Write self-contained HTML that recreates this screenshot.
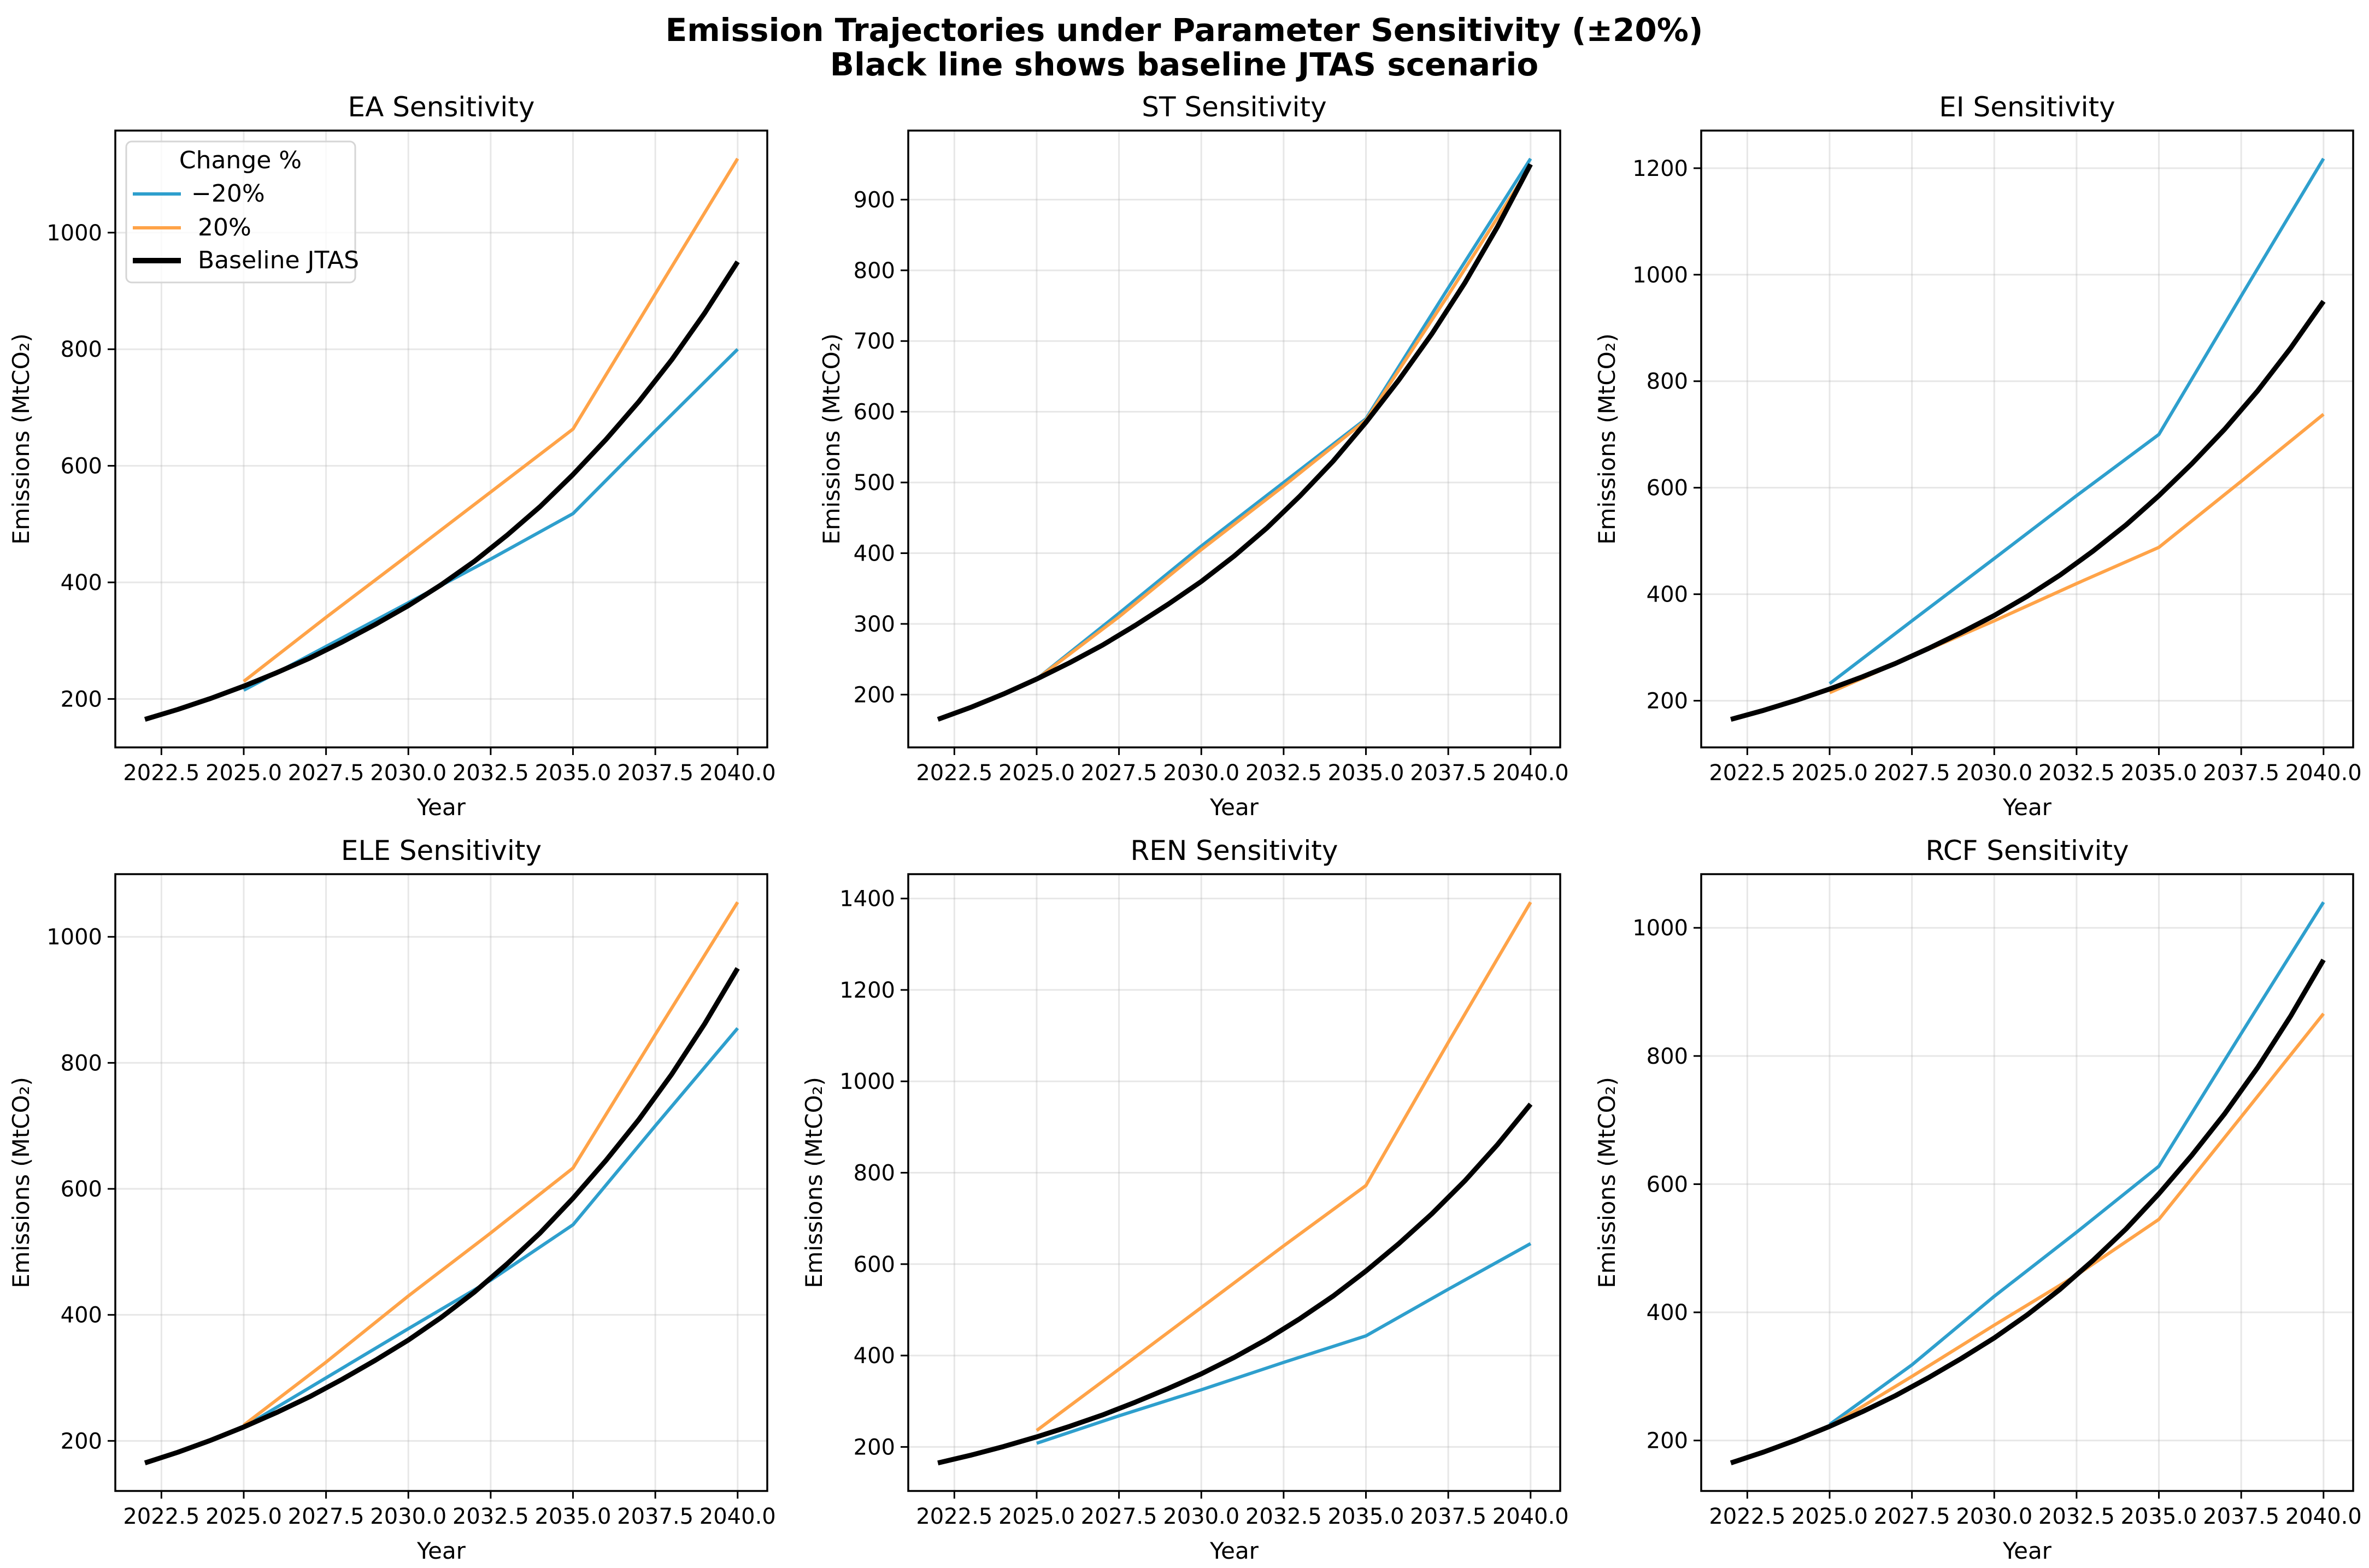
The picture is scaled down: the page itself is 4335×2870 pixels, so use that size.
<!DOCTYPE html>
<html><head><meta charset="utf-8"><style>
html,body{margin:0;padding:0;background:#fff}
svg{display:block;font-family:"DejaVu Sans","Liberation Sans",sans-serif}
</style></head><body>
<svg id="fig" width="4335" height="2870" viewBox="0 0 4335 2870" xmlns="http://www.w3.org/2000/svg">
<rect width="4335" height="2870" fill="#fff"/>
<text x="2167" y="75" text-anchor="middle" font-size="58" font-weight="bold">Emission Trajectories under Parameter Sensitivity (±20%)</text>
<text x="2167" y="138" text-anchor="middle" font-size="58" font-weight="bold">Black line shows baseline JTAS scenario</text>
</svg>
<script>
const baseYears = [2022,2023,2024,2025,2026,2027,2028,2029,2030,2031,2032,2033,2034,2035,2036,2037,2038,2039,2040];
const baseline = [165,182,201,222,245,270,298,328,360,396,436,481,530,585,645,710,782,862,950];
const sensYears = [2025,2027.5,2030,2032.5,2035,2037.5,2040];
const panelNames = ["EA","ST","EI","ELE","REN","RCF"];
const minus20 = [
  [215,290,365,440,518,660,800],
  [222,315,410,500,590,775,958],
  [232,350,467,585,700,960,1218],
  [222,300,378,455,543,700,855],
  [208,268,325,385,443,545,645],
  [225,318,425,525,628,835,1040]
];
const plus20 = [
  [230,340,447,555,663,895,1127],
  [222,310,405,495,588,765,948],
  [215,283,350,420,488,612,738],
  [225,325,430,530,633,845,1055],
  [236,370,505,640,772,1085,1392],
  [222,300,380,458,545,705,866]
];
const xTicks = [2022.5,2025,2027.5,2030,2032.5,2035,2037.5,2040];
const xTickLabels = ["2022.5","2025.0","2027.5","2030.0","2032.5","2035.0","2037.5","2040.0"];
const yTickSets = [
  [200,400,600,800,1000],
  [200,300,400,500,600,700,800,900],
  [200,400,600,800,1000,1200],
  [200,400,600,800,1000],
  [200,400,600,800,1000,1200,1400],
  [200,400,600,800,1000]
];

const NS="http://www.w3.org/2000/svg";
const svg=document.getElementById('fig');
function mk(tag,attrs,parent){const e=document.createElementNS(NS,tag);for(const k in attrs)e.setAttribute(k,attrs[k]);(parent||svg).appendChild(e);return e;}
const colsL=[211,1662,3113], W=1193, rowsT=[239,1600], H=1129;
const BLUE="#2e9fcd", ORANGE="#ffa348";

panelNames.forEach((name,i)=>{
  const L=colsL[i%3], T=rowsT[Math.floor(i/3)];
  const g=mk('g',{});
  
  
  const xmin=2021.1,xmax=2040.9;
  const all=baseline.concat(minus20[i],plus20[i]);
  const dmin=Math.min(...all), dmax=Math.max(...all), pad=(dmax-dmin)*0.05;
  const ymin=dmin-pad, ymax=dmax+pad;
  const sx=v=>L+(v-xmin)/(xmax-xmin)*W;
  const sy=v=>T+H-(v-ymin)/(ymax-ymin)*H;
  xTicks.forEach((t,k)=>{
    const gl=mk('line',{x1:sx(t),x2:sx(t),y1:T,y2:T+H,stroke:'#b0b0b0','stroke-opacity':0.3,'stroke-width':3},g);
    
    
    const tk=mk('line',{x1:sx(t),x2:sx(t),y1:T+H,y2:T+H+14,stroke:'#000','stroke-width':3},g);
    
    
    const tl=mk('text',{x:sx(t),y:T+H+60,'text-anchor':'middle','font-size':40},g);
    
    
    tl.textContent=xTickLabels[k];
  });
  yTickSets[i].forEach(t=>{
    const gl=mk('line',{x1:L,x2:L+W,y1:sy(t),y2:sy(t),stroke:'#b0b0b0','stroke-opacity':0.3,'stroke-width':3},g);
    
    
    const tk=mk('line',{x1:L-14,x2:L,y1:sy(t),y2:sy(t),stroke:'#000','stroke-width':3},g);
    
    
    const tl=mk('text',{x:L-24,y:sy(t)+14,'text-anchor':'end','font-size':40},g);
    
    
    tl.textContent=String(t);
  });
  const path=(xs,ys)=>xs.map((x,k)=>(k?'L':'M')+sx(x).toFixed(1)+','+sy(ys[k]).toFixed(1)).join(' ');
  const lm=mk('path',{d:path(sensYears,minus20[i]),fill:'none',stroke:BLUE,'stroke-width':6,'stroke-linejoin':'round'},g);
  
  
  const lp=mk('path',{d:path(sensYears,plus20[i]),fill:'none',stroke:ORANGE,'stroke-width':6,'stroke-linejoin':'round'},g);
  
  
  const lb=mk('path',{d:path(baseYears,baseline),fill:'none',stroke:'#000','stroke-width':9,'stroke-linejoin':'round'},g);
  
  
  const fr=mk('rect',{x:L,y:T,width:W,height:H,fill:'none',stroke:'#000','stroke-width':3.5},g);
  
  
  const ti=mk('text',{x:L+W/2,y:T-26,'text-anchor':'middle','font-size':50},g);
  
  
  ti.textContent=name+' Sensitivity';
  const xl=mk('text',{x:L+W/2,y:T+H+124,'text-anchor':'middle','font-size':42},g);
  
  
  xl.textContent='Year';
  const maxLab=Math.max(...yTickSets[i]);
  const off=maxLab>=1000?172:140;
  const yl=mk('text',{x:0,y:0,'text-anchor':'middle','font-size':42,transform:'translate('+(L-off+14)+','+(T+H/2)+') rotate(-90)'},g);
  
  
  yl.textContent='Emissions (MtCO₂)';
  if(i===0){
    const lg=mk('g',{},g);
    
    
    mk('rect',{x:231,y:259,width:419,height:258,rx:10,fill:'#fff','fill-opacity':0.8,stroke:'#d5d5d5','stroke-width':3},lg);
    const lt=mk('text',{x:440,y:308,'text-anchor':'middle','font-size':44},lg);
    
    
    lt.textContent='Change %';
    const ents=[[BLUE,6,'−20%',350,355],[ORANGE,6,' 20%',362,417],['#000',10,'Baseline JTAS',362,477]];
    ents.forEach(e=>{
      const eg=mk('g',{},lg);
      
      
      mk('line',{x1:243,x2:331,y1:e[4],y2:e[4],stroke:e[0],'stroke-width':e[1]},eg);
      const tx=mk('text',{x:e[3],y:e[4]+14,'font-size':44},eg);
      tx.textContent=e[2].trim();
    });
  }
});
</script>
</body></html>
